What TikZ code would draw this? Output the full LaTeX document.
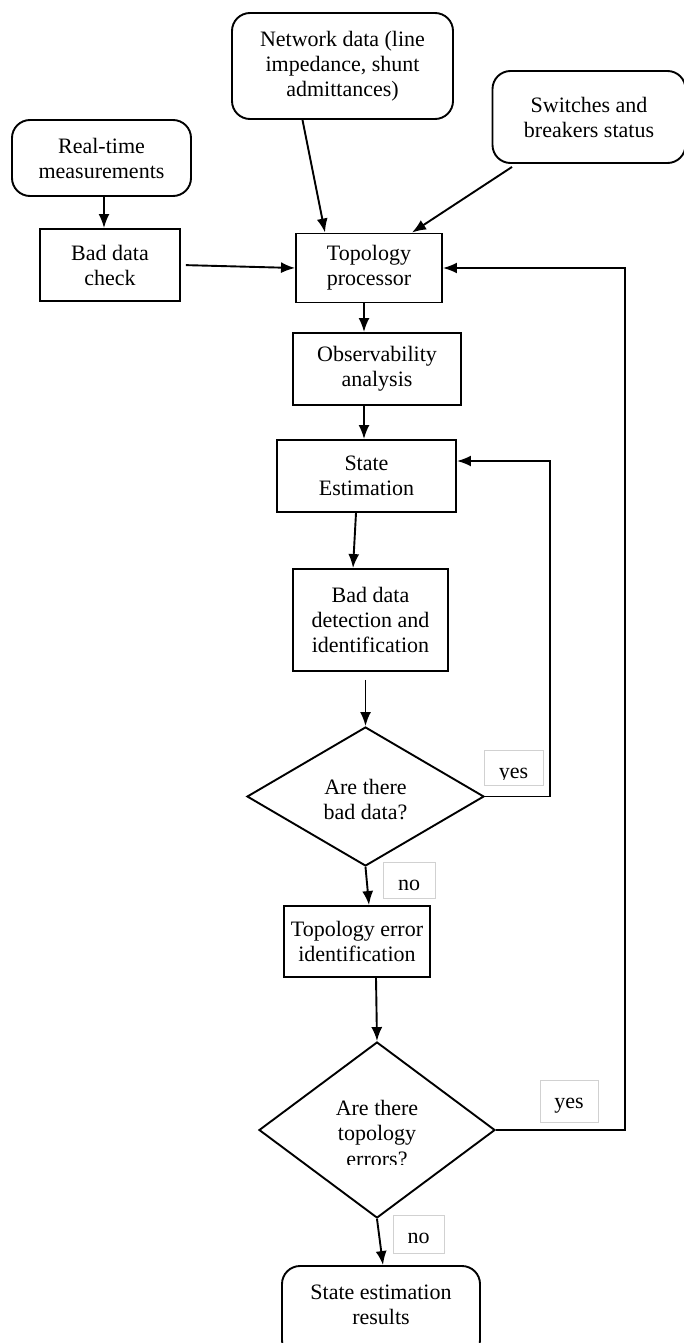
\documentclass[tikz,border=0pt]{standalone}
\usepackage{fontspec}
\setmainfont{Liberation Serif}
\usetikzlibrary{shapes.geometric,arrows.meta}
\begin{document}
\begin{tikzpicture}[x=1pt,y=-1pt,
  every node/.style={font=\fontsize{22}{25}\selectfont, align=center, inner sep=0pt},
  proc/.style={draw, line width=1.9pt, rectangle},
  term/.style={draw, line width=1.9pt, rectangle, rounded corners=18pt},
  decision/.style={draw, line width=1.9pt, diamond},
  tag/.style={draw=black!18, line width=0.8pt, rectangle},
  flow/.style={line width=1.9pt, -{Latex[length=14pt,width=11pt]}}
]
\useasboundingbox (0,0) rectangle (683,1343);

% sources
\node[term, minimum width=221pt, minimum height=106pt] (nd) at (342.5,66) {Network data (line\\impedance, shunt\\admittances)};
\node[term, minimum width=193pt, minimum height=92pt] (sw) at (589,117) {Switches and\\breakers status};
\node[term, minimum width=179pt, minimum height=76pt] (rt) at (101.5,158) {Real-time\\measurements};

% processing chain
\node[proc, minimum width=140pt, minimum height=72pt] (bdc) at (110,265) {Bad data\\check};
\node[proc, minimum width=146pt, minimum height=69pt] (tp) at (369,268) {Topology\\processor};
\node[proc, minimum width=168pt, minimum height=72pt] (oa) at (377,369) {Observability\\analysis};
\node[proc, minimum width=179pt, minimum height=72pt] (se) at (366.5,476) {State\\Estimation};
\node[proc, minimum width=155pt, minimum height=102pt] (bdd) at (370.5,620) {Bad data\\detection and\\identification};
\node[decision, minimum width=237pt, minimum height=139pt] (d1) at (365.5,796.5) {};
\node (d1t) at (365.5,800) {Are there\\bad data?};
\node[proc, minimum width=146pt, minimum height=71pt] (te) at (357,941.5) {Topology error\\identification};
\node[decision, minimum width=236pt, minimum height=176pt] (d2) at (377,1130) {};
\begin{scope}
  \clip (300,1085) rectangle (455,1164);
  \node[anchor=base] (d2a) at (377,1115) {Are there};
  \node[anchor=base] (d2b) at (377,1140) {topology};
  \node[anchor=base] (d2c) at (377,1166) {errors?};
\end{scope}
\node[term, minimum width=198pt, minimum height=92pt] (res) at (381,1312) {};
\node (rest) at (381,1305) {State estimation\\results};

% branch labels
\node[tag, minimum width=59pt, minimum height=35pt] (y1) at (513.5,767.5) {};
\begin{scope}
  \clip (485,751) rectangle (542,779);
  \node[anchor=base] (y1t) at (513.5,778) {yes};
\end{scope}
\node[tag, minimum width=52pt, minimum height=36pt] (n1) at (409,880) {};
\node[anchor=base] (n1t) at (409,890) {no};
\node[tag, minimum width=58pt, minimum height=42pt] (y2) at (569,1101) {};
\node[anchor=base] (y2t) at (569,1108) {yes};
\node[tag, minimum width=51pt, minimum height=38pt] (n2) at (418.5,1234) {};
\node[anchor=base] (n2t) at (418.5,1243) {no};

% connectors
\draw[flow] (rt.south -| 104,0) -- (bdc.north -| 104,0);
\draw[flow, shorten <=5pt] (bdc.east) -- (tp.west);
\draw[flow] ([xshift=-40pt]nd.south) -- ([xshift=-44pt]tp.north);
\draw[flow] ([xshift=-77pt,yshift=-3pt]sw.south) -- ([xshift=43pt]tp.north);
\draw[flow] (tp.south -| 364,0) -- (oa.north -| 364,0);
\draw[flow] (oa.south -| 364,0) -- (se.north -| 364,0);
\draw[flow] (se.south -| 356,0) -- (bdd.north -| 353,0);
\draw[flow, shorten <=8pt] (bdd.south -| d1.north) -- (d1.north);
\draw[flow] (d1.east) -- (550,796.5) |- (se.east |- 0,461);
\draw[flow] (d1.south) -- (te.north -| 369,0);
\draw[flow] (te.south -| 376,0) -- (d2.north);
\draw[flow] (d2.east) -- (625,1130) |- (tp.east);
\draw[flow] (d2.south) -- (res.north -| 383,0);
\end{tikzpicture}
\end{document}
